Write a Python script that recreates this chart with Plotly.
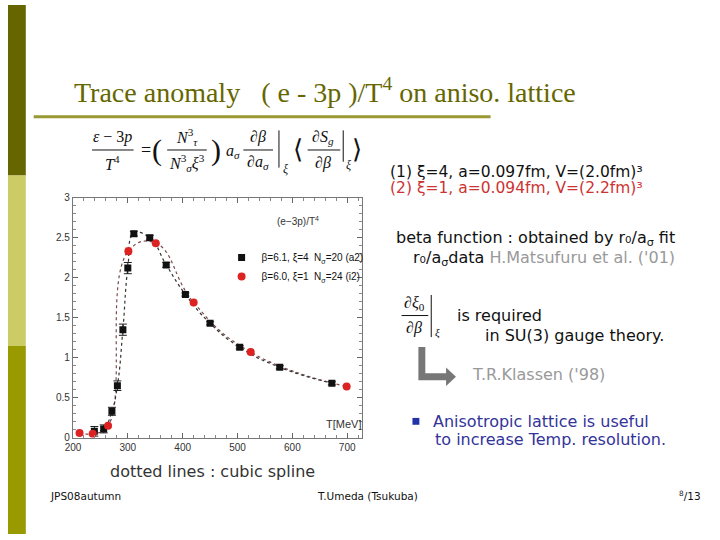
import plotly.graph_objects as go

W, H = 720, 540
def px(x): return x / W
def py(y): return 1 - y / H

# ---- data ----
T_a2 = [239, 256, 271, 281, 291, 300, 311, 340, 370, 405, 450, 504, 577, 672]
E_a2 = [0.08, 0.11, 0.33, 0.65, 1.35, 2.12, 2.55, 2.50, 2.16, 1.79, 1.43, 1.13, 0.88, 0.68]
ERR_a2 = [0.06, 0.05, 0.05, 0.06, 0.07, 0.07, 0.03, 0.03, 0.03, 0.02, 0.02, 0.02, 0.02, 0.02]

T_i2 = [212, 236, 264, 301, 351, 420, 524, 699]
E_i2 = [0.06, 0.05, 0.15, 2.33, 2.43, 1.69, 1.07, 0.64]
ERR_i2 = [0.02, 0.02, 0.02, 0.04, 0.02, 0.02, 0.02, 0.02]

x_ticks = [200, 300, 400, 500, 600, 700]
y_ticks = [0, 0.5, 1, 1.5, 2, 2.5, 3]
y_tick_text = ["0", "0.5", "1", "1.5", "2", "2.5", "3"]

name_a2 = "β=6.1, ξ=4  N<sub>σ</sub>=20 (a2)"
name_i2 = "β=6.0, ξ=1  N<sub>σ</sub>=24 (i2)"

fig = go.Figure()

# cubic-spline-like dotted curves
fig.add_trace(go.Scatter(x=T_i2, y=E_i2, mode="lines", line=dict(shape="spline", smoothing=1.3, dash="dot", width=1.2, color="#7a4a4a"),
                         showlegend=False, hoverinfo="skip"))
fig.add_trace(go.Scatter(x=T_a2, y=E_a2, mode="lines", line=dict(shape="spline", smoothing=1.3, dash="dot", width=1.2, color="#333333"),
                         showlegend=False, hoverinfo="skip"))

fig.add_trace(go.Scatter(x=T_a2, y=E_a2, mode="markers", name=name_a2,
                         marker=dict(symbol="square", size=7, color="#111111"),
                         error_y=dict(type="data", array=ERR_a2, color="#222222", thickness=1, width=4)))
fig.add_trace(go.Scatter(x=T_i2, y=E_i2, mode="markers", name=name_i2,
                         marker=dict(symbol="circle", size=8, color="#dd2222"),
                         error_y=dict(type="data", array=ERR_i2, color="#dd2222", thickness=1, width=3)))

axis_font = dict(family="Liberation Sans", size=10, color="#333333")
fig.update_layout(
    autosize=True, margin=dict(l=0, r=0, t=0, b=0),
    paper_bgcolor="white", plot_bgcolor="white",
    showlegend=True,
    legend=dict(x=px(216), y=py(243), xanchor="left", yanchor="top", bgcolor="rgba(0,0,0,0)",
                font=dict(family="Liberation Sans", size=10, color="#111111"), tracegroupgap=0,
                itemwidth=30),
    xaxis=dict(domain=[px(65.7), px(358)], range=[200, 727], tickvals=x_ticks,
               ticks="inside", ticklen=5, tickcolor="#666666", showline=True, linecolor="#777777",
               linewidth=1.3, mirror="ticks", showgrid=False, zeroline=False, tickfont=axis_font,
               minor=dict(dtick=20, ticks="inside", ticklen=3, tickcolor="#888888")),
    yaxis=dict(domain=[py(441.7), py(196.7)], range=[0, 3], tickvals=y_ticks, ticktext=y_tick_text,
               ticks="inside", ticklen=5, tickcolor="#666666", showline=True, linecolor="#777777",
               linewidth=1.3, mirror="ticks", showgrid=False, zeroline=False, tickfont=axis_font,
               minor=dict(dtick=0.1, ticks="inside", ticklen=3, tickcolor="#888888")),
)

shapes = []
# sidebar
shapes += [
    dict(type="rect", xref="paper", yref="paper", x0=0, x1=px(18), y0=py(174), y1=1, fillcolor="#666600", line=dict(width=0), layer="below"),
    dict(type="rect", xref="paper", yref="paper", x0=0, x1=px(18), y0=py(348), y1=py(174), fillcolor="#cccc66", line=dict(width=0), layer="below"),
    dict(type="rect", xref="paper", yref="paper", x0=0, x1=px(18), y0=0, y1=py(348), fillcolor="#999900", line=dict(width=0), layer="below"),
]
# title underline
shapes.append(dict(type="line", xref="paper", yref="paper", x0=px(26), x1=px(488), y0=py(114), y1=py(114),
                   line=dict(color="#999933", width=3)))

def hline(x0, x1, y, w=1, c="#111111"):
    return dict(type="line", xref="paper", yref="paper", x0=px(x0), x1=px(x1), y0=py(y), y1=py(y), line=dict(color=c, width=w))

def vline(x, y0, y1, w=1, c="#111111"):
    return dict(type="line", xref="paper", yref="paper", x0=px(x), x1=px(x), y0=py(y0), y1=py(y1), line=dict(color=c, width=w))

# formula fraction bars
shapes += [hline(85, 127, 148), hline(161, 201, 148), hline(238, 268, 148), hline(303, 336, 148),
           vline(274, 128, 166), vline(339, 128, 160)]
# derivative on right
shapes += [hline(398, 425, 317), vline(428, 296, 339)]
# arrow (L shape)
shapes.append(dict(type="path", xref="paper", yref="paper",
                   path=f"M {px(415)},{py(349)} L {px(422)},{py(349)} L {px(422)},{py(376)} L {px(443)},{py(376)} "
                        f"L {px(443)},{py(370)} L {px(453)},{py(379.5)} L {px(443)},{py(389)} L {px(443)},{py(383)} "
                        f"L {px(415)},{py(383)} Z",
                   fillcolor="#777777", line=dict(width=0)))
# blue bullet
shapes.append(dict(type="rect", xref="paper", yref="paper", x0=px(409), x1=px(416), y0=py(428.5), y1=py(421.5),
                   fillcolor="#2233aa", line=dict(width=0)))
fig.update_layout(shapes=shapes)

ann = []
def txt(x, y, s, size=14, color="#111111", family="DejaVu Sans", xa="left", ya="middle"):
    ann.append(dict(x=px(x), y=py(y), xref="paper", yref="paper", text=s, showarrow=False,
                    xanchor=xa, yanchor=ya, font=dict(family=family, size=size, color=color)))

# title
txt(65, 87, "Trace anomaly   ( e - 3p )/T<sup>4</sup> on aniso. lattice", size=28, color="#666600", family="Liberation Serif")

# formula
SER = "Liberation Serif"
txt(106, 135, "<i>ε</i> − 3<i>p</i>", 16, family=SER, xa="center")
txt(106, 161, "<i>T</i><sup>4</sup>", 16, family=SER, xa="center")
txt(140, 148, "=", 18, family=SER, xa="center")
txt(151, 148, "(", 30, family=SER, xa="center")
txt(181, 135, "<i>N</i><sup>3</sup><sub><i>τ</i></sub>", 16, family=SER, xa="center")
txt(181, 161, "<i>N</i><sup>3</sup><sub><i>σ</i></sub><i>ξ</i><sup>3</sup>", 16, family=SER, xa="center")
txt(210, 148, ")", 30, family=SER, xa="center")
txt(228, 150, "<i>a</i><sub><i>σ</i></sub>", 16, family=SER, xa="center")
txt(253, 135, "∂<i>β</i>", 16, family=SER, xa="center")
txt(253, 161, "∂<i>a</i><sub><i>σ</i></sub>", 16, family=SER, xa="center")
txt(281, 167, "<i>ξ</i>", 12, family=SER, xa="center")
txt(293, 148, "⟨", 26, family=SER, xa="center")
txt(319, 135, "∂<i>S</i><sub><i>g</i></sub>", 16, family=SER, xa="center")
txt(319, 161, "∂<i>β</i>", 16, family=SER, xa="center")
txt(345, 163, "<i>ξ</i>", 12, family=SER, xa="center")
txt(353, 148, "⟩", 26, family=SER, xa="center")

# right column
txt(384, 170, "(1) ξ=4, a=0.097fm, V=(2.0fm)³", 15.5, color="#111111")
txt(384, 187, "(2) ξ=1, a=0.094fm, V=(2.2fm)³", 15.5, color="#cc3333")
txt(390, 238, "beta function : obtained by r₀/a<sub>σ</sub> fit", 16)
txt(408, 259, "r₀/a<sub>σ</sub>data <span style='color:#999999'>H.Matsufuru et al. ('01)</span>", 16)
txt(411, 305, "∂<i>ξ</i><sub>0</sub>", 16, family=SER, xa="center")
txt(411, 330, "∂<i>β</i>", 16, family=SER, xa="center")
txt(434, 334, "<i>ξ</i>", 11, family=SER, xa="center")
txt(452, 317, "is required", 16)
txt(480, 337, "in SU(3) gauge theory.", 16)
txt(467, 377, "T.R.Klassen ('98)", 16, color="#999999")
txt(428, 425, "Anisotropic lattice is useful", 16, color="#333399")
txt(430, 444, "to increase Temp. resolution.", 16, color="#333399")

# chart inner labels
txt(270, 221, "(e−3p)/T<sup>4</sup>", 10, family="Liberation Sans", color="#333333")
txt(320, 428, "T[MeV]", 11, family="Liberation Sans", color="#333333")

# bottom
txt(101, 476, "dotted lines : cubic spline", 16, color="#333333")
txt(40, 501, "JPS08autumn", 10.5, color="#111111")
txt(310, 501, "T.Umeda (Tsukuba)", 10.5, color="#111111")
txt(677, 501, "<sup>8</sup>/13", 10.5, color="#111111")

fig.update_layout(annotations=ann)
fig.write_html("out.html", default_width="100vw", default_height="100vh",
               config=dict(responsive=True, displayModeBar=False),
               post_script="document.body.style.margin='0';document.body.style.padding='0';"
                           "document.body.style.overflow='hidden';"
                           "var gd=document.getElementsByClassName('plotly-graph-div')[0];Plotly.Plots.resize(gd);")
